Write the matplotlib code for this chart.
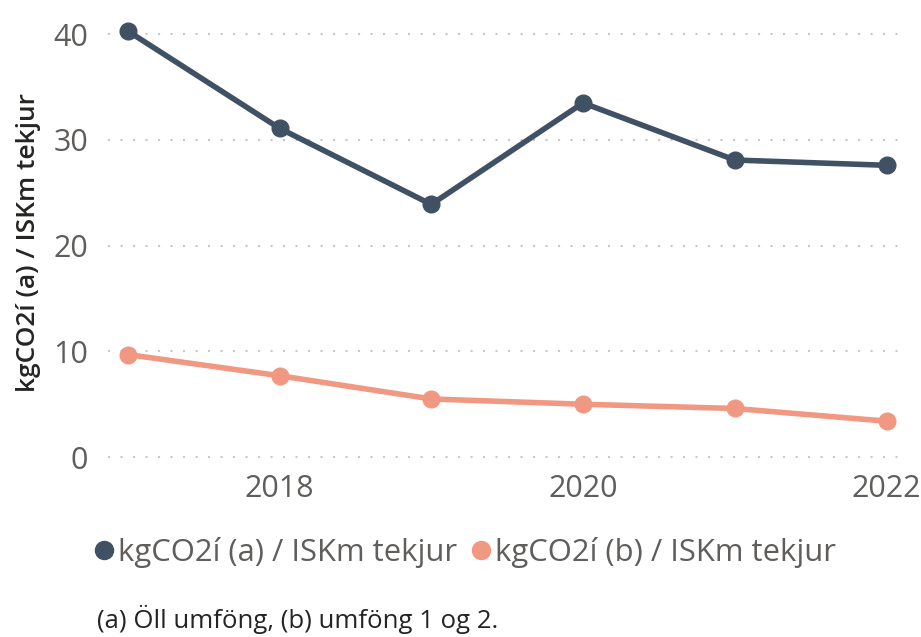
import matplotlib
matplotlib.use("Agg")
import matplotlib.pyplot as plt
from matplotlib.lines import Line2D

plt.rcParams['font.family'] = ['Open Sans', 'DejaVu Sans']

# Datos
ar = [2017, 2018, 2019, 2020, 2021, 2022]
umfang_a = [40.3, 31.1, 23.9, 33.5, 28.1, 27.6]
umfang_b = [9.7, 7.7, 5.5, 5.0, 4.6, 3.4]
nafn_a = "kgCO2í (a) / ISKm tekjur"
nafn_b = "kgCO2í (b) / ISKm tekjur"
y_titill = "kgCO2í (a) / ISKm tekjur"
neðanmals = "(a) Öll umföng, (b) umföng 1 og 2."

litur_a = "#3F5163"
litur_b = "#F09882"

fig = plt.figure(figsize=(9.21, 6.37), dpi=100)
ax = fig.add_axes([0.117, 0.2575, 0.8654, 0.722])

ax.plot(ar, umfang_a, color=litur_a, lw=4, marker='o', ms=12, solid_capstyle='round')
ax.plot(ar, umfang_b, color=litur_b, lw=4, marker='o', ms=12, solid_capstyle='round')

ax.set_xlim(2016.868, 2022.12)
ax.set_ylim(-1.5, 42)
ax.set_yticks([0, 10, 20, 30, 40])
ax.set_xticks([2018, 2020, 2022])

ax.grid(axis='y', color='#C8C8C8', linestyle=(0, (1, 5)), lw=1.5)
ax.set_axisbelow(True)
for s in ax.spines.values():
    s.set_visible(False)
ax.tick_params(length=0, labelsize=22, labelcolor='#605E5C')
ax.tick_params(axis='y', pad=14)
ax.tick_params(axis='x', pad=1)

ax.set_ylabel(y_titill, fontsize=19, color='#252423', fontweight='semibold', labelpad=9)

handles = [Line2D([], [], ls='none', marker='o', ms=13, color=litur_a),
           Line2D([], [], ls='none', marker='o', ms=13, color=litur_b)]
fig.legend(handles, [nafn_a, nafn_b], loc='center left', bbox_to_anchor=(0.088, 0.133),
           ncol=2, frameon=False, fontsize=22.3, labelcolor='#605E5C',
           handlelength=0.5, handletextpad=0.2, columnspacing=0.5, borderpad=0)

fig.text(0.105, 0.014, neðanmals, fontsize=18.5, color='#252423')

fig.savefig("out.png", dpi=100)
